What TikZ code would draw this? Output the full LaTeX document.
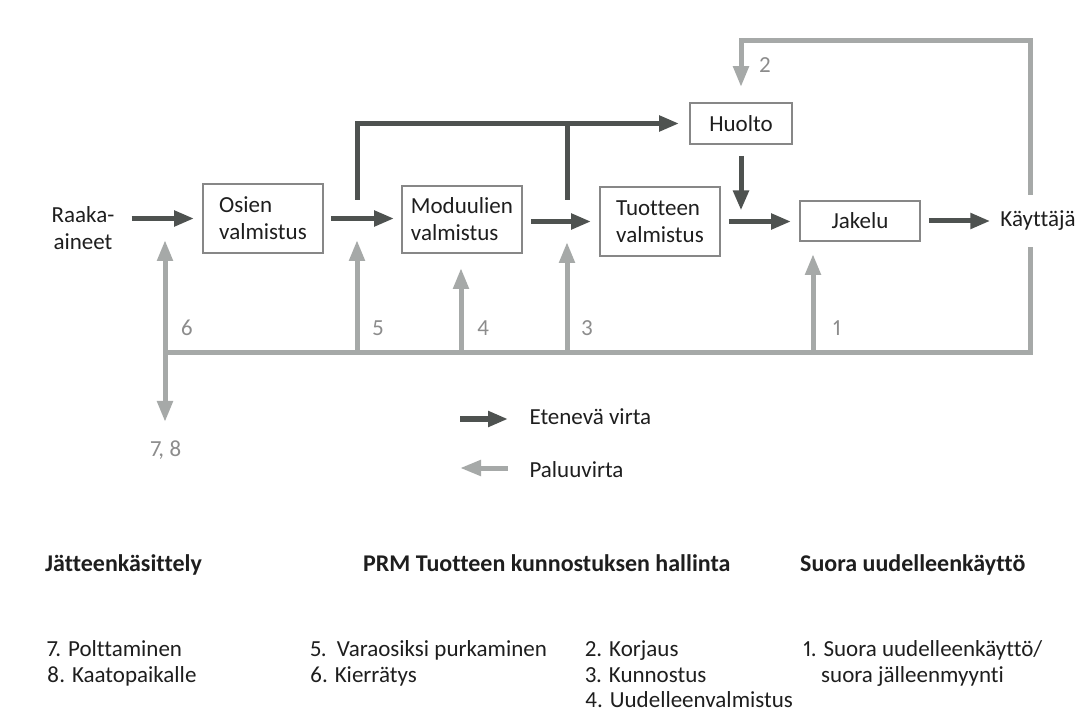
\documentclass[tikz,border=0pt]{standalone}
\usepackage{fontspec}
\setmainfont{Carlito}[Ligatures=NoCommon, Numbers=Proportional]
\usetikzlibrary{arrows.meta}
\definecolor{fwd}{RGB}{78,82,80}
\definecolor{ret}{RGB}{166,169,168}
\definecolor{frame}{RGB}{135,135,135}
\definecolor{ink}{RGB}{30,30,30}
\definecolor{numgray}{RGB}{140,140,140}

\begin{document}
\begin{tikzpicture}[x=1pt,y=-1pt,
  every node/.style={font=\fontsize{23}{27}\selectfont, text=ink},
  stage/.style={draw=frame, line width=1.8pt, fill=white, inner sep=0pt, align=left},
  fwdarrow/.style={draw=fwd, line width=5pt, -{Triangle[length=20pt,width=15pt]}},
  fwdline/.style={draw=fwd, line width=5pt},
  retline/.style={draw=ret, line width=5pt},
  retarrow/.style={retline, -{Triangle[length=21pt,width=15pt]}},
  numlabel/.style={text=numgray},
  headtext/.style={anchor=base west, inner sep=0pt, font=\fontsize{24}{28}\selectfont\bfseries},
  listtext/.style={anchor=base west, inner sep=0pt},
]
\useasboundingbox (0,0) rectangle (1085,711);

% process stages
\node[align=center, inner sep=2pt] (raaka) at (83,228) {Raaka-\\aineet};
\node[stage, minimum width=120pt, minimum height=69pt] (osien) at (263,218.5) {Osien\\valmistus};
\node[stage, minimum width=120pt, minimum height=67pt] (modul) at (462,219.5) {Moduulien\\valmistus};
\node[stage, minimum width=120pt, minimum height=69pt] (tuot) at (660,221.5) {Tuotteen\\valmistus};
\node[stage, align=center, minimum width=102pt, minimum height=41pt] (huolto) at (741,123.5) {Huolto};
\node[stage, align=center, minimum width=120pt, minimum height=40pt] (jakelu) at (860,221) {Jakelu};

% junction points of the forward branch and the return bus
\coordinate (b1) at (357,200);
\coordinate (b2) at (567,200);
\coordinate (j6) at (165,353);
\coordinate (j5) at (357,353);
\coordinate (j4) at (461,353);
\coordinate (j3) at (567,353);
\coordinate (j1) at (813,353);
\coordinate (busR) at (1030,353);
\coordinate (topR) at (1030,41);
\coordinate (t6) at (165,240);
\coordinate (t5) at (357,240);
\coordinate (t4) at (461,268);
\coordinate (t3) at (567,242);
\coordinate (t1) at (813,254);
\coordinate (t78) at (165,422);

% return flow
\draw[retarrow, line join=miter, shorten >=15pt] (j6) -- (busR) -- (topR) -| (huolto.north);
\draw[retarrow] (j6) -- (t6);
\draw[retarrow] (j6) -- (t78);
\draw[retarrow] (j5) -- (t5);
\draw[retarrow] (j4) -- (t4);
\draw[retarrow] (j3) -- (t3);
\draw[retarrow] (j1) -- (t1);

\node[fill=white, inner sep=2pt, minimum height=52pt] (user) at (1038,221) {Käyttäjä};

% forward flow
\draw[fwdarrow, shorten <=15pt, shorten >=8pt] (raaka.east |- osien.west) -- (osien.west);
\draw[fwdarrow, shorten <=7pt, shorten >=7pt] (osien.east) -- (osien.east -| modul.west);
\draw[fwdarrow, shorten <=8pt, shorten >=8pt] (modul.east |- tuot.west) -- (tuot.west);
\draw[fwdarrow, shorten <=8pt, shorten >=8pt] (tuot.east) -- (tuot.east -| jakelu.west);
\draw[fwdarrow, shorten <=8pt, shorten >=8pt] (jakelu.east) -- (jakelu.east -| user.west);
\draw[fwdarrow, line join=miter, shorten >=10pt] (b1) |- (huolto.west);
\draw[fwdline] (b2) -- (b2 |- huolto.west);
\draw[fwdarrow, shorten <=11pt, shorten >=11pt] (huolto.south) -- (huolto.south |- tuot.east);

% flow numbers
\node[numlabel] (n2) at (765,65) {2};
\node[numlabel] (n6) at (187,328) {6};
\node[numlabel] (n5) at (378,328) {5};
\node[numlabel] (n4) at (483,328) {4};
\node[numlabel] (n3) at (587,328) {3};
\node[numlabel] (n1) at (837,328) {1};
\node[numlabel] (n78) at (166,450) {7, 8};

% legend
\node[anchor=west] (legfwd) at (526,417) {Etenevä virta};
\node[anchor=west] (legret) at (526,470) {Paluuvirta};
\draw[fwdarrow] ([xshift=-66pt]legfwd.west |- 0,419) -- ([xshift=-18pt]legfwd.west |- 0,419);
\draw[retarrow] ([xshift=-18pt]legret.west |- 0,468) -- ([xshift=-66pt]legret.west |- 0,468);

% categories
\node[headtext] (h1) at (45,571) {Jätteenkäsittely};
\node[headtext] (h2) at (363,571) {PRM Tuotteen kunnostuksen hallinta};
\node[headtext] (h3) at (800,571) {Suora uudelleenkäyttö};

\node[listtext] (i7) at (47,656) {7. Polttaminen};
\node[listtext] (i8) at (47,682) {8. Kaatopaikalle};
\node[listtext] (i5) at (310,656) {5.\ \ Varaosiksi purkaminen};
\node[listtext] (i6) at (310,682) {6. Kierrätys};
\node[listtext] (i2) at (585,656) {2. Korjaus};
\node[listtext] (i3) at (585,682) {3. Kunnostus};
\node[listtext] (i4) at (585,707) {4. Uudelleenvalmistus};
\node[listtext] (i1) at (803,656) {1. Suora uudelleenkäyttö/};
\node[listtext] (i1b) at (821,682) {suora jälleenmyynti};
\end{tikzpicture}
\end{document}
